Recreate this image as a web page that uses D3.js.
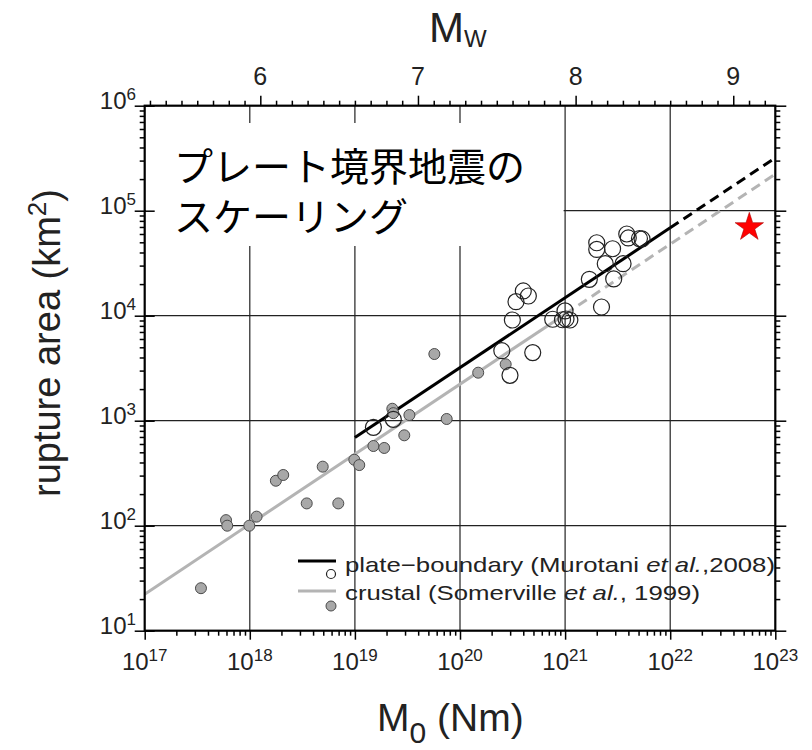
<!DOCTYPE html>
<html>
<head>
<meta charset="utf-8">
<script src="https://cdn.jsdelivr.net/npm/d3@7"></script>
<style>
    body { margin: 0; background: #fff; }
    text { font-family: "Liberation Sans", Arial, sans-serif; fill: #222; }
    .jp { font-family: "Noto Sans CJK JP", sans-serif; fill: #000; font-weight: 400; }
</style>
</head>
<body>
<div id="chart"></div>
<script>
(function () {

    // axis extents (M0 in Nm, area in km2)
    var xExtent = [1e17, 1e23];
    var yExtent = [1e1, 1e6];

    // tick labels
    var xTickExps = [17, 18, 19, 20, 21, 22, 23];
    var yTickExps = [1, 2, 3, 4, 5, 6];
    var mwTicks = [6, 7, 8, 9];

    // crustal events (Somerville et al., 1999) : [M0, area]
    var crustalM0 = [3.43e17, 5.94e17, 6.1e17, 9.9e17, 1.16e18, 1.77e18, 2.08e18, 3.48e18, 4.94e18, 6.95e18,
        9.87e18, 1.1e19, 1.5e19, 1.9e19, 2.27e19, 2.32e19, 2.95e19, 3.3e19, 5.7e19, 7.47e19, 1.49e20, 2.72e20];
    var crustalArea = [25.4, 113, 100, 100, 122, 268, 304, 163, 365, 163,
        425, 378, 574, 550, 1300, 1180, 726, 1132, 4315, 1038, 2866, 3444];

    // plate-boundary events (Murotani et al., 2008)
    var plateM0 = [1.5e19, 2.32e19, 2.5e20, 2.99e20, 3.15e20, 3.41e20, 4.0e20, 4.47e20, 4.92e20, 7.62e20,
        9.98e20, 1.02e21, 1.11e21, 9.45e20, 1.7e21, 2.0e21, 2.0e21, 2.22e21, 2.41e21, 2.83e21,
        2.9e21, 3.56e21, 3.86e21, 3.99e21, 5.1e21, 5.4e21];
    var plateArea = [865, 1030, 4640, 2705, 9100, 13600, 17200, 15400, 4450, 9250,
        11100, 9300, 9100, 9150, 22200, 49500, 42800, 12100, 31300, 43400,
        22400, 31300, 60000, 55000, 54300, 53800];

    // scaling lines, solid part and extrapolated (dashed) part
    var plateSolid = [[1e19, 690], [1e22, 68700]];
    var plateDashed = [[1e22, 68700], [1e23, 319000]];
    var crustalSolid = [[1e17, 22.3], [1e21, 10350]];
    var crustalDashed = [[1e21, 10350], [1e23, 223000]];

    // the 2011 event (red star)
    var starM0 = [5.66e22];
    var starArea = [69500];


    var width = 812;
    var height = 750;

    var svg = d3.select("#chart")
        .append("svg")
        .attr("width", width)
        .attr("height", height);

    var left = 144.7, right = 775.3, top = 105.7, bottom = 630.7;

    var x = d3.scaleLog().domain(xExtent).range([left, right]);
    var y = d3.scaleLog().domain(yExtent).range([bottom, top]);

    // Mw = (log10 M0 - 9.1) / 1.5
    var mw = d3.scaleLinear()
        .domain([(Math.log10(xExtent[0]) - 9.1) / 1.5, (Math.log10(xExtent[1]) - 9.1) / 1.5])
        .range([left, right]);

    var xMajor = xTickExps.map(function (e) { return Math.pow(10, e); });
    var yMajor = yTickExps.map(function (e) { return Math.pow(10, e); });

    var minorOf = function (majors) {
        var out = [];
        for (var i = 0; i < majors.length - 1; i++) {
            for (var k = 2; k <= 9; k++) out.push(majors[i] * k);
        }
        return out;
    };
    var xMinor = minorOf(xMajor);
    var yMinor = minorOf(yMajor);

    var mwMinor = [];
    for (var m = 53; m <= 92; m++) {
        if (m % 10 != 0) mwMinor.push(m / 10);
    }

    // grid
    var grid = svg.append("g").attr("class", "grid");
    grid.selectAll("line.v")
        .data(xMajor.slice(1, -1))
        .enter().append("line")
        .attr("x1", function (d) { return x(d); })
        .attr("x2", function (d) { return x(d); })
        .attr("y1", top).attr("y2", bottom)
        .attr("stroke", "#222").attr("stroke-width", 1.2);
    grid.selectAll("line.h")
        .data(yMajor.slice(1, -1))
        .enter().append("line")
        .attr("y1", function (d) { return y(d); })
        .attr("y2", function (d) { return y(d); })
        .attr("x1", left).attr("x2", right)
        .attr("stroke", "#222").attr("stroke-width", 1.2);

    // white box behind the title
    svg.append("rect")
        .attr("x", left + 1)
        .attr("y", 123)
        .attr("width", x(1e21) - left - 2.5)
        .attr("height", 123)
        .attr("fill", "#fff");

    var title = svg.append("text").attr("class", "jp")
        .attr("x", 174).attr("y", 181)
        .style("font-size", "39px");
    title.append("tspan").attr("x", 174).text("プレート境界地震の");
    title.append("tspan").attr("x", 174).attr("dy", 50).text("スケーリング");

    // scaling lines
    var line = d3.line()
        .x(function (d) { return x(d[0]); })
        .y(function (d) { return y(d[1]); });

    var drawLine = function (data, colour, dash) {
        svg.append("path")
            .datum(data)
            .attr("d", line)
            .attr("fill", "none")
            .attr("stroke", colour)
            .attr("stroke-width", 3)
            .attr("stroke-dasharray", dash);
    };
    drawLine(crustalSolid, "#b4b4b4", null);
    drawLine(crustalDashed, "#b4b4b4", "10,6");
    drawLine(plateSolid, "#000", null);
    drawLine(plateDashed, "#000", "10,6");

    // data points
    svg.append("g").selectAll("circle")
        .data(crustalM0)
        .enter().append("circle")
        .attr("cx", function (d) { return x(d); })
        .attr("cy", function (d, i) { return y(crustalArea[i]); })
        .attr("r", 5.5)
        .attr("fill", "#a8a8a8")
        .attr("stroke", "#4a4a4a")
        .attr("stroke-width", 1);

    svg.append("g").selectAll("circle")
        .data(plateM0)
        .enter().append("circle")
        .attr("cx", function (d) { return x(d); })
        .attr("cy", function (d, i) { return y(plateArea[i]); })
        .attr("r", 8)
        .attr("fill", "none")
        .attr("stroke", "#222")
        .attr("stroke-width", 1.2);

    svg.selectAll("path.star")
        .data(starM0)
        .enter().append("path")
        .attr("class", "star")
        .attr("d", d3.symbol().type(d3.symbolStar).size(250))
        .attr("transform", function (d, i) { return "translate(" + x(d) + "," + y(starArea[i]) + ")"; })
        .attr("fill", "#f00")
        .attr("stroke", "#a00")
        .attr("stroke-width", 0.6);

    // ticks (major and minor drawn as separate axes)
    var tickAxis = function (axis, transform) {
        var g = svg.append("g").attr("transform", transform).call(axis);
        g.select(".domain").remove();
        g.selectAll("line").attr("stroke", "#000").attr("stroke-width", 1.5);
        return g;
    };

    tickAxis(d3.axisBottom(x).tickValues(xMajor).tickSize(9).tickFormat(""), "translate(0," + bottom + ")");
    tickAxis(d3.axisBottom(x).tickValues(xMinor).tickSize(5).tickFormat(""), "translate(0," + bottom + ")");

    tickAxis(d3.axisLeft(y).tickValues(yMajor).tickSize(10).tickFormat(""), "translate(" + left + ",0)");
    tickAxis(d3.axisRight(y).tickValues(yMajor).tickSize(10).tickFormat(""), "translate(" + left + ",0)");
    tickAxis(d3.axisLeft(y).tickValues(yMinor).tickSize(5).tickFormat(""), "translate(" + left + ",0)");

    tickAxis(d3.axisRight(y).tickValues(yMajor).tickSize(11).tickFormat(""), "translate(" + right + ",0)");
    tickAxis(d3.axisRight(y).tickValues(yMinor).tickSize(5).tickFormat(""), "translate(" + right + ",0)");

    tickAxis(d3.axisTop(mw).tickValues(mwTicks).tickSize(10).tickFormat(""), "translate(0," + top + ")");
    tickAxis(d3.axisTop(mw).tickValues(mwMinor).tickSize(5).tickFormat(""), "translate(0," + top + ")");

    // frame
    svg.append("rect")
        .attr("x", left).attr("y", top)
        .attr("width", right - left).attr("height", bottom - top)
        .attr("fill", "none")
        .attr("stroke", "#000")
        .attr("stroke-width", 2.2);

    // tick labels with superscripts
    var xl = svg.append("g").selectAll("text")
        .data(xTickExps)
        .enter().append("text")
        .attr("x", function (d) { return x(Math.pow(10, d)); })
        .attr("y", 670)
        .attr("text-anchor", "middle")
        .style("font-size", "24px");
    xl.append("tspan").text("10");
    xl.append("tspan").attr("dy", -9).style("font-size", "17px").text(function (d) { return d; });

    var yl = svg.append("g").selectAll("text")
        .data(yTickExps)
        .enter().append("text")
        .attr("x", 136)
        .attr("y", function (d) { return y(Math.pow(10, d)) + 3; })
        .attr("text-anchor", "end")
        .style("font-size", "24px");
    yl.append("tspan").text("10");
    yl.append("tspan").attr("dy", -9).style("font-size", "17px").text(function (d) { return d; });

    svg.append("g").selectAll("text")
        .data(mwTicks)
        .enter().append("text")
        .attr("x", function (d) { return mw(d); })
        .attr("y", 85)
        .attr("text-anchor", "middle")
        .style("font-size", "25px")
        .text(function (d) { return d; });

    // axis titles
    var mwTitle = svg.append("text")
        .attr("x", 429).attr("y", 42)
        .style("font-size", "42px");
    mwTitle.append("tspan").text("M");
    mwTitle.append("tspan").attr("dy", 5).style("font-size", "24px").text("W");

    var m0Title = svg.append("text")
        .attr("x", 377).attr("y", 731)
        .style("font-size", "39px");
    m0Title.append("tspan").text("M");
    m0Title.append("tspan").attr("dy", 12).style("font-size", "30px").text("0");
    m0Title.append("tspan").attr("dy", -12).text(" (Nm)");

    var yTitle = svg.append("text")
        .attr("transform", "translate(60,343) rotate(-90)")
        .attr("text-anchor", "middle")
        .style("font-size", "38px");
    yTitle.append("tspan").text("rupture area (km");
    yTitle.append("tspan").attr("dy", -14).style("font-size", "26px").text("2");
    yTitle.append("tspan").attr("dy", 14).text(")");

    // legend
    var legend = svg.append("g").attr("class", "legend");
    legend.append("line")
        .attr("x1", 298).attr("x2", 336).attr("y1", 561).attr("y2", 561)
        .attr("stroke", "#000").attr("stroke-width", 3);
    legend.append("circle")
        .attr("cx", 331).attr("cy", 574).attr("r", 4.5)
        .attr("fill", "#fff").attr("stroke", "#222").attr("stroke-width", 1.2);
    var t1 = legend.append("text")
        .attr("x", 345).attr("y", 572)
        .attr("textLength", 430)
        .attr("lengthAdjust", "spacingAndGlyphs")
        .style("font-size", "21px");
    t1.append("tspan").text("plate\u2212boundary (Murotani ");
    t1.append("tspan").style("font-style", "italic").text("et al.");
    t1.append("tspan").text(",2008)");

    legend.append("line")
        .attr("x1", 298).attr("x2", 336).attr("y1", 591).attr("y2", 591)
        .attr("stroke", "#b4b4b4").attr("stroke-width", 3);
    legend.append("circle")
        .attr("cx", 331).attr("cy", 606).attr("r", 5)
        .attr("fill", "#a8a8a8").attr("stroke", "#4a4a4a").attr("stroke-width", 1);
    var t2 = legend.append("text")
        .attr("x", 345).attr("y", 600)
        .attr("textLength", 355)
        .attr("lengthAdjust", "spacingAndGlyphs")
        .style("font-size", "21px");
    t2.append("tspan").text("crustal (Somerville ");
    t2.append("tspan").style("font-style", "italic").text("et al.");
    t2.append("tspan").text(", 1999)");

})();
</script>
</body>
</html>
